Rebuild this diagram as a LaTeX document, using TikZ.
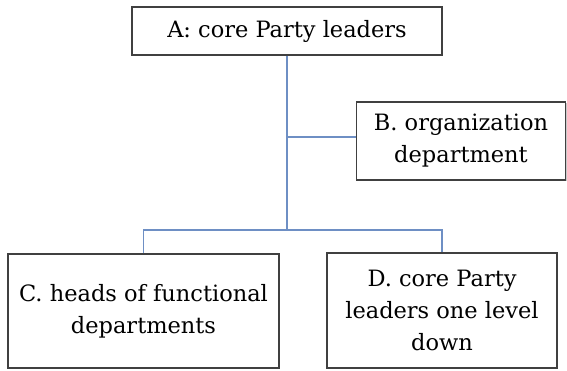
\documentclass[tikz,border=0pt]{standalone}
\usepackage{fontspec}
\setmainfont{DejaVu Serif}
\usetikzlibrary{shadows}
\definecolor{conn}{HTML}{6E8FC4}
\begin{document}
\begin{tikzpicture}[x=1pt,y=-1pt,
  box/.style={draw=black!75,line width=1.3pt,fill=white,align=center,
    font=\fontsize{22.5}{32}\selectfont,inner sep=0pt,
    drop shadow={shadow xshift=1.2pt,shadow yshift=-1.2pt,fill=black!35,opacity=0.6}},
  conn/.style={draw=conn,line width=1.3pt}]
\useasboundingbox (0,0) rectangle (567,371);
\node[box,minimum width=310pt,minimum height=48pt] (A) at (287,31) {A: core Party leaders};
\node[box,minimum width=209pt,minimum height=78pt] (B) at (461,141) {B. organization\\department};
\node[box,minimum width=271pt,minimum height=114pt] (C) at (143.5,311) {C. heads of functional\\departments};
\node[box,minimum width=230pt,minimum height=115pt] (D) at (442,310.5) {D. core Party\\leaders one level\\down};
\coordinate (J) at (287,230);
\coordinate (Jb) at (287,137);
\draw[conn] (A.south) -- (J);
\draw[conn] (Jb) -- (B.west |- Jb);
\draw[conn] (C.north) |- (J) -| (D.north);
\end{tikzpicture}
\end{document}
